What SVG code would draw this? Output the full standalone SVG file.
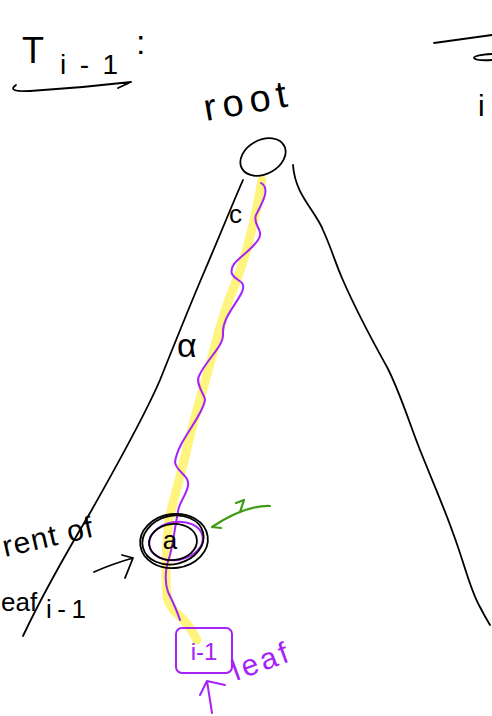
<svg xmlns="http://www.w3.org/2000/svg" width="492" height="716" viewBox="0 0 492 716">
<style>
.ink{fill:none;stroke:#000;stroke-width:1.8;stroke-linecap:round;stroke-linejoin:round}
.pur{fill:none;stroke:#a622f5;stroke-width:2;stroke-linecap:round;stroke-linejoin:round}
.grn{fill:none;stroke:#3f9a14;stroke-width:2.2;stroke-linecap:round;stroke-linejoin:round}
.hl{fill:none;stroke:#fff266;stroke-opacity:0.85;stroke-width:9;stroke-linecap:round;stroke-linejoin:round}
.t{font-family:"Liberation Sans","DejaVu Sans",sans-serif;fill:#000}
.tp{font-family:"Liberation Sans","DejaVu Sans",sans-serif;fill:#a622f5}
</style>
<rect width="492" height="716" fill="#fff"/>

<g id="title">
  <text class="t" x="22" y="63" font-size="36">T</text>
  <text class="t" x="60" y="74" font-size="28" textLength="58" lengthAdjust="spacing">i-1</text>
  <text class="t" x="136" y="54" font-size="34">:</text>
  <path class="ink" d="M16,85 Q6,92 30,91 Q80,88 131,82 M131,82 L118,88"/>
</g>

<g id="right-title">
  <path class="ink" d="M434,43 L492,35"/>
  <path class="ink" d="M492,54 Q474,55 474,58 Q476,61 492,60"/>
  <text class="t" x="478" y="116" font-size="30">i</text>
</g>

<g id="connectors">
  <path class="ink" d="M243,180 C232,205 220,235 205,270 C190,305 178,335 160,380 C145,415 120,460 90,513 C65,555 40,600 23,636"/>
  <path class="ink" d="M293,165 C295,195 315,210 323,230 C332,250 335,262 342,278 C358,315 372,340 387,367 C400,392 410,425 420,450 C432,480 445,510 453,533 C465,565 470,590 480,607 C484,615 487,620 490,625"/>
  <path class="hl" d="M262,180 C255,220 245,260 234,287 C222,315 218,335 212,357 C200,400 192,425 186,453 C178,485 172,505 169,520 C166,550 165,575 167,597 C170,608 176,613 182,618 C188,625 193,632 197,640"/>
  <path class="pur" d="M261,183 C270,188 264,200 256,215 C252,225 265,230 258,240 C248,255 228,262 232,274 C236,282 247,280 242,292 C236,305 222,318 223,334 C224,346 206,360 199,376 C195,384 205,395 205,400 C202,418 178,440 175,462 C176,472 190,475 188,486 C186,496 178,504 178,512 C175,525 174,540 170,555 C166,566 164,580 168,592 C172,600 176,608 180,620"/>
  <path class="ink" d="M94,572 Q112,564 133,558 M133,558 L122,555 M133,558 L125,578"/>
  <path class="grn" d="M270,506 Q245,505 212,527 M212,527 L221,528 M236,503 L244,500 L240,512"/>
  <path class="pur" d="M212,713 L207,681 M207,681 L200,695 M207,681 L225,685"/>
</g>

<g id="node-root">
  <ellipse class="ink" cx="263" cy="157" rx="24" ry="17" transform="rotate(-28 263 157)"/>
  <text class="t" x="206" y="121" font-size="38" textLength="84" lengthAdjust="spacing" transform="rotate(-10 206 121)">root</text>
</g>

<g id="edge-labels">
  <text class="t" x="229" y="223" font-size="26">c</text>
  <text class="t" x="177" y="357" font-size="34" textLength="36" lengthAdjust="spacing">α</text>
</g>

<g id="node-a">
  <ellipse class="pur" cx="176" cy="541" rx="27" ry="19" transform="rotate(-10 176 541)"/>
  <ellipse class="ink" cx="174" cy="541" rx="34" ry="27" transform="rotate(-8 174 541)" stroke-width="2.2"/>
  <ellipse class="ink" cx="173" cy="540" rx="31" ry="24" transform="rotate(-14 173 540)" stroke-width="2.2"/>
  <ellipse class="ink" cx="173" cy="542" rx="24" ry="18" transform="rotate(-6 173 542)" stroke-width="2.2"/>
  <text class="t" x="170" y="549" font-size="26" text-anchor="middle">a</text>
</g>

<g id="label-parent">
  <text class="t" x="5" y="557" font-size="30" textLength="92" lengthAdjust="spacing" transform="rotate(-13 5 557)">rent of</text>
  <text class="t" x="1" y="611" font-size="26">eaf</text>
  <text class="t" x="46" y="618" font-size="26" textLength="40" lengthAdjust="spacing">i-1</text>
</g>

<g id="node-leaf">
  <rect class="pur" x="176" y="628" width="56" height="45" rx="6"/>
  <text class="tp" x="204" y="660" font-size="24" text-anchor="middle">i-1</text>
  <text class="tp" x="236" y="681" font-size="30" textLength="58" lengthAdjust="spacing" transform="rotate(-20 236 681)">leaf</text>
</g>
</svg>
